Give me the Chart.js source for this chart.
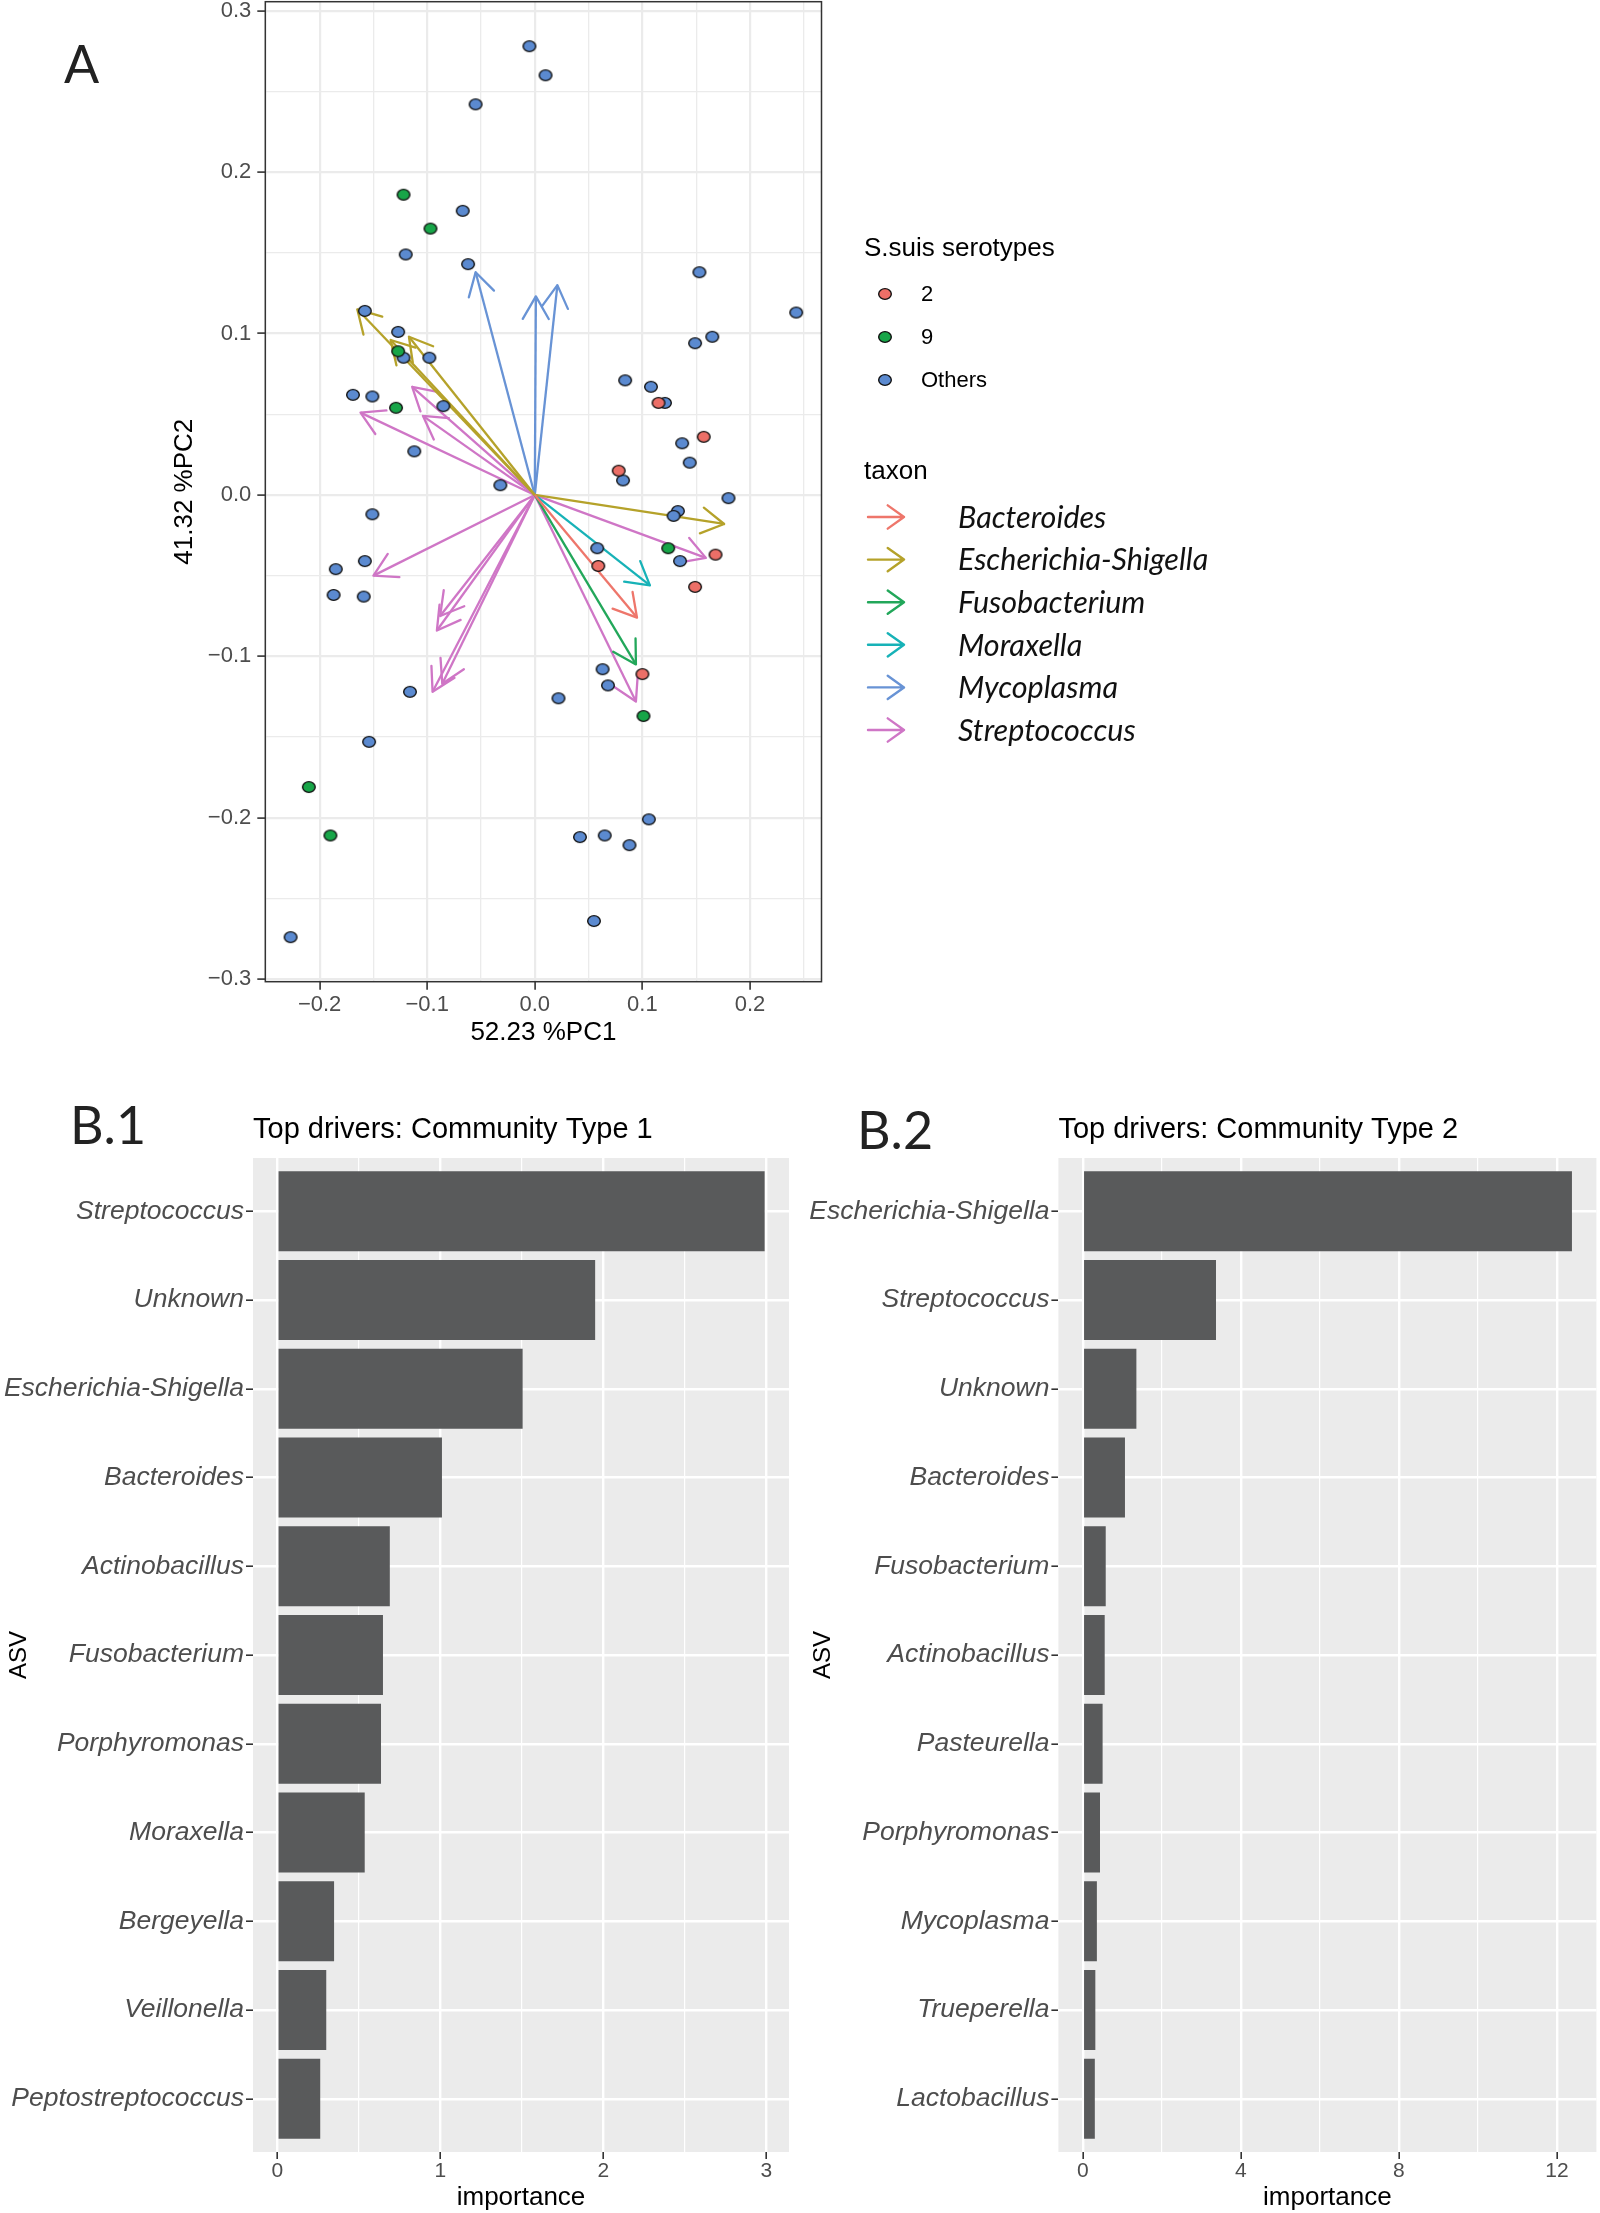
<!DOCTYPE html>
<html>
<head>
<meta charset="utf-8">
<script src="https://cdn.jsdelivr.net/npm/chart.js@4.4.1/dist/chart.umd.min.js"></script>
<style>
  html, body { margin: 0; padding: 0; background: #fff; }
  body { width: 1600px; height: 2213px; position: relative; overflow: hidden; }
  canvas { position: absolute; }
  .tag { position: absolute; font-family: Lato, sans-serif; font-size: 52px; line-height: 52px; color: #222; }
</style>
</head>
<body>
<div class="tag" style="left:64px; top:37px;">A</div>
<div class="tag" style="left:70px; top:1098px;">B.1</div>
<div class="tag" style="left:857px; top:1103px;">B.2</div>
<canvas id="pca" width="1600" height="1060" style="left:0; top:0;"></canvas>
<canvas id="ct1" width="800" height="1133" style="left:0; top:1080px;"></canvas>
<canvas id="ct2" width="800" height="1133" style="left:800px; top:1080px;"></canvas>
<script>
/*
  Panel A: PCA biplot of samples + taxon loadings
  Panel B: top drivers per community type
*/
const SANS = "'Liberation Sans', Arial, Helvetica, sans-serif";

// ---- Panel A data ----
const pc1Title = '52.23 %PC1';
const pc2Title = '41.32 %PC2';
const serotypeTitle = 'S.suis serotypes';
const serotypeNames = ['2', '9', 'Others'];
const serotypeColors = ['#EC6F67', '#17A548', '#5B8AD0'];

const sero2 = [[0.115, 0.057], [0.157, 0.036], [0.078, 0.015], [0.168, -0.037], [0.059, -0.044],
  [0.149, -0.057], [0.100, -0.111]];
const sero9 = [[-0.122, 0.186], [-0.097, 0.165], [-0.127, 0.089], [-0.129, 0.054], [0.124, -0.033],
  [0.101, -0.137], [-0.210, -0.181], [-0.190, -0.211]];
const seroOthers = [[-0.005, 0.278], [0.010, 0.260], [-0.055, 0.242], [-0.067, 0.176], [-0.120, 0.149],
  [-0.062, 0.143], [0.153, 0.138], [0.243, 0.113], [-0.158, 0.114], [-0.127, 0.101], [0.165, 0.098],
  [0.149, 0.094], [-0.122, 0.085], [-0.098, 0.085], [0.084, 0.071], [-0.169, 0.062], [-0.151, 0.061],
  [0.108, 0.067], [0.121, 0.057], [-0.085, 0.055], [0.137, 0.032], [-0.112, 0.027], [0.144, 0.020],
  [0.082, 0.009], [-0.032, 0.006], [0.180, -0.002], [-0.151, -0.012], [0.133, -0.010], [0.129, -0.013],
  [0.058, -0.033], [-0.158, -0.041], [0.135, -0.041], [-0.185, -0.046], [-0.187, -0.062], [-0.159, -0.063],
  [0.063, -0.108], [0.068, -0.118], [-0.116, -0.122], [0.022, -0.126], [-0.154, -0.153], [0.106, -0.201],
  [0.042, -0.212], [0.065, -0.211], [0.088, -0.217], [0.055, -0.264], [-0.227, -0.274]];

const taxonTitle = 'taxon';
const taxonNames = ['Bacteroides', 'Escherichia-Shigella', 'Fusobacterium', 'Moraxella', 'Mycoplasma', 'Streptococcus'];
const taxonColors = ['#EE766B', '#B5A22A', '#22A75A', '#17B2B7', '#6893D5', '#CF76C6'];
const tipsBacteroides = [[0.095, -0.076]];
const tipsEscherichia = [[-0.165, 0.115], [-0.134, 0.096], [-0.117, 0.098], [0.176, -0.018]];
const tipsFusobacterium = [[0.094, -0.105]];
const tipsMoraxella = [[0.107, -0.056]];
const tipsMycoplasma = [[-0.055, 0.138], [0.001, 0.123], [0.021, 0.130]];
const tipsStreptococcus = [[-0.114, 0.067], [-0.104, 0.049], [-0.162, 0.051], [-0.150, -0.050],
  [-0.088, -0.075], [-0.091, -0.084], [-0.095, -0.122], [-0.086, -0.117], [0.159, -0.039], [0.094, -0.128]];
const taxonTips = [tipsBacteroides, tipsEscherichia, tipsFusobacterium, tipsMoraxella, tipsMycoplasma, tipsStreptococcus];

// ---- Panel B data ----
const ct1Title = 'Top drivers: Community Type 1';
const ct1Asv = ['Streptococcus', 'Unknown', 'Escherichia-Shigella', 'Bacteroides', 'Actinobacillus',
  'Fusobacterium', 'Porphyromonas', 'Moraxella', 'Bergeyella', 'Veillonella', 'Peptostreptococcus'];
const ct1Importance = [2.99, 1.95, 1.505, 1.01, 0.69, 0.648, 0.636, 0.536, 0.348, 0.30, 0.263];
const ct1Ticks = [0, 1, 2, 3];

const ct2Title = 'Top drivers: Community Type 2';
const ct2Asv = ['Escherichia-Shigella', 'Streptococcus', 'Unknown', 'Bacteroides', 'Fusobacterium',
  'Actinobacillus', 'Pasteurella', 'Porphyromonas', 'Mycoplasma', 'Trueperella', 'Lactobacillus'];
const ct2Importance = [12.38, 3.37, 1.355, 1.066, 0.579, 0.553, 0.50, 0.434, 0.355, 0.316, 0.303];
const ct2Ticks = [0, 4, 8, 12];

Chart.defaults.font.family = SANS;

// ggplot-like 5% expansion of a data range
function expand(lo, hi) {
  const d = (hi - lo) * 0.05;
  return [lo - d, hi + d];
}

// scales must not reserve extra room for overflowing tick labels
function noPad(s) {
  s.paddingTop = 0; s.paddingBottom = 0; s.paddingLeft = 0; s.paddingRight = 0;
}

function drawArrow(ctx, x0, y0, x1, y1, color, width, len, head, headOnly) {
  const ang = Math.atan2(y1 - y0, x1 - x0);
  ctx.save();
  ctx.strokeStyle = color;
  ctx.lineWidth = width;
  ctx.lineCap = 'round';
  ctx.beginPath();
  if (!headOnly) { ctx.moveTo(x0, y0); ctx.lineTo(x1, y1); }
  [-1, 1].forEach(s => {
    ctx.moveTo(x1, y1);
    ctx.lineTo(x1 - len * Math.cos(ang + s * head), y1 - len * Math.sin(ang + s * head));
  });
  ctx.stroke();
  ctx.restore();
}

function dotImage(fill) {
  const c = document.createElement('canvas');
  c.width = 16; c.height = 14;
  const g = c.getContext('2d');
  g.beginPath();
  g.ellipse(8, 7, 6.3, 5.4, 0, 0, Math.PI * 2);
  g.fillStyle = fill;
  g.fill();
  g.lineWidth = 1.4;
  g.strokeStyle = '#111';
  g.stroke();
  return c;
}
const dots = serotypeColors.map(dotImage);

const panelBg = {
  id: 'panelBg',
  beforeDraw(chart, args, opts) {
    const {ctx, chartArea: a} = chart;
    ctx.save();
    ctx.fillStyle = opts.color || '#fff';
    ctx.fillRect(a.left, a.top, a.right - a.left, a.bottom - a.top);
    ctx.restore();
  }
};

const panelBorder = {
  id: 'panelBorder',
  afterDatasetsDraw(chart) {
    const {ctx, chartArea: a} = chart;
    ctx.save();
    ctx.strokeStyle = '#333';
    ctx.lineWidth = 1.5;
    ctx.strokeRect(a.left, a.top, a.right - a.left, a.bottom - a.top);
    ctx.restore();
  }
};

const arrowHeads = {
  id: 'arrowHeads',
  afterDatasetDraw(chart, args) {
    const ds = chart.data.datasets[args.index];
    if (!ds.isArrow) return;
    const [a, b] = args.meta.data;
    drawArrow(chart.ctx, a.x, a.y, b.x, b.y, ds.borderColor, ds.borderWidth, 26, Math.PI / 6, true);
  }
};

const pcaLegend = {
  id: 'pcaLegend',
  afterDraw(chart) {
    const ctx = chart.ctx;
    ctx.save();
    ctx.fillStyle = '#000';
    ctx.textBaseline = 'alphabetic';
    ctx.font = `26px ${SANS}`;
    ctx.fillText(serotypeTitle, 864, 256);
    ctx.font = `22px ${SANS}`;
    ctx.textBaseline = 'middle';
    serotypeNames.forEach((name, i) => {
      const y = 294 + i * 43;
      ctx.drawImage(dots[i], 885 - dots[i].width / 2, y - dots[i].height / 2);
      ctx.fillText(name, 921, y + 1);
    });
    ctx.textBaseline = 'alphabetic';
    ctx.font = `26px ${SANS}`;
    ctx.fillText(taxonTitle, 864, 479);
    ctx.font = `italic 30.5px Lato, ${SANS}`;
    ctx.textBaseline = 'middle';
    taxonNames.forEach((name, i) => {
      const y = 517 + i * 42.6;
      drawArrow(ctx, 868, y, 904, y, taxonColors[i], 2.4, 20, 0.62, false);
      ctx.fillStyle = '#111';
      ctx.fillText(name, 958, y + 1);
    });
    ctx.restore();
  }
};

// ---- Panel A chart ----
const allXY = [[0, 0]].concat(sero2, sero9, seroOthers, ...taxonTips);
const xLim = expand(Math.min(...allXY.map(p => p[0])), Math.max(...allXY.map(p => p[0])));
const yLim = expand(Math.min(...allXY.map(p => p[1])), Math.max(...allXY.map(p => p[1])));

const pcaMajor = v => Math.abs(Math.round(v * 100)) % 10 === 0;
const pcaFmt = v => (v < -1e-9 ? '\u2212' : '') + Math.abs(v).toFixed(1);

const pcaDatasets = [];
taxonTips.forEach((tips, t) => {
  tips.forEach(([x, y]) => {
    pcaDatasets.push({
      type: 'line', isArrow: true, label: taxonNames[t],
      data: [{x: 0, y: 0}, {x, y}],
      borderColor: taxonColors[t], borderWidth: 2.3,
      pointRadius: 0, showLine: true, fill: false, tension: 0, order: 1
    });
  });
});
[sero2, sero9, seroOthers].forEach((pts, i) => {
  pcaDatasets.push({
    type: 'scatter', label: serotypeNames[i],
    data: pts.map(([x, y]) => ({x, y})),
    pointStyle: dots[i], pointRadius: 6, order: 0
  });
});

function pcaAxis(lim, title, extra) {
  return Object.assign({
    type: 'linear', min: lim[0], max: lim[1], offset: false,
    ticks: {
      stepSize: 0.05, autoSkip: false, includeBounds: false,
      color: '#4D4D4D', font: {size: 22},
      callback: v => pcaMajor(v) ? pcaFmt(v) : ''
    },
    grid: {
      color: '#EBEBEB',
      lineWidth: c => (c.tick && pcaMajor(c.tick.value)) ? 2.2 : 1.3,
      tickColor: c => (c.tick && pcaMajor(c.tick.value)) ? '#333' : 'rgba(0,0,0,0)',
      tickLength: 8, tickWidth: 1.6
    },
    border: {display: false},
    title: {display: true, text: title, color: '#000', font: {size: 26}, padding: {top: 0, bottom: 0}}
  }, extra);
}

const xAxisA = pcaAxis(xLim, pc1Title, {afterFit: s => { s.height = 78.3; noPad(s); }});
xAxisA.ticks.padding = 2;
xAxisA.title.padding = {top: 0, bottom: 11.4};
const yAxisA = pcaAxis(yLim, pc2Title, {afterFit: s => { s.width = 95.9; noPad(s); }});
yAxisA.ticks.padding = 6;

new Chart(document.getElementById('pca'), {
  type: 'scatter',
  data: {datasets: pcaDatasets},
  options: {
    responsive: false,
    animation: false,
    layout: {autoPadding: false, padding: {left: 169.4, right: 778.5, top: 1.7, bottom: 0}},
    plugins: {legend: {display: false}, tooltip: {enabled: false}, panelBg: {color: '#fff'}},
    scales: {x: xAxisA, y: yAxisA}
  },
  plugins: [panelBg, arrowHeads, panelBorder, pcaLegend]
});

// ---- Panel B charts ----
function driverChart(id, title, asv, importance, labelTicks, minorStep, box) {
  const lim = expand(0, Math.max(...importance));
  const isMajor = v => labelTicks.some(t => Math.abs(t - v) < 1e-9);
  return new Chart(document.getElementById(id), {
    type: 'bar',
    data: {
      datasets: [{
        data: importance.map((v, i) => ({x: v, y: i})),
        backgroundColor: '#595A5B', borderWidth: 0,
        barPercentage: 0.9, categoryPercentage: 1
      }]
    },
    options: {
      indexAxis: 'y',
      responsive: false,
      animation: false,
      layout: {autoPadding: false, padding: {left: 0, right: box.padRight, top: 0, bottom: 0}},
      plugins: {
        legend: {display: false},
        tooltip: {enabled: false},
        panelBg: {color: '#EBEBEB'},
        title: {
          display: true, text: title, align: 'start', fullSize: false, color: '#000',
          font: {size: 29, weight: 'normal'}, padding: {top: 32.6, bottom: 10.6}
        }
      },
      scales: {
        x: {
          type: 'linear', min: lim[0], max: lim[1], offset: false,
          ticks: {
            stepSize: minorStep, autoSkip: false, includeBounds: false, padding: 0,
            color: '#4D4D4D', font: {size: 21},
            callback: v => isMajor(v) ? String(v) : ''
          },
          grid: {
            color: '#fff', offset: false,
            lineWidth: c => (c.tick && isMajor(c.tick.value)) ? 2.4 : 1.2,
            tickColor: c => (c.tick && isMajor(c.tick.value)) ? '#333' : 'rgba(0,0,0,0)',
            tickLength: 7, tickWidth: 1.6
          },
          border: {display: false},
          title: {display: true, text: 'importance', color: '#000', font: {size: 26}, padding: {top: 0, bottom: 0}},
          afterFit: s => { s.height = 61; noPad(s); }
        },
        y: {
          type: 'linear', reverse: true, min: -0.6, max: asv.length - 0.4, offset: false,
          ticks: {
            stepSize: 1, autoSkip: false, includeBounds: false, padding: 2,
            color: '#4D4D4D', font: {size: 26.5, style: 'italic'},
            callback: v => asv[v] !== undefined ? asv[v] : ''
          },
          grid: {color: '#fff', offset: false, lineWidth: 2.4, tickColor: '#333', tickLength: 7, tickWidth: 1.6},
          border: {display: false},
          title: {display: true, text: 'ASV', color: '#000', font: {size: 24}, padding: {top: box.asvPad, bottom: 0}},
          afterFit: s => { s.width = box.yWidth; noPad(s); }
        }
      }
    },
    plugins: [panelBg]
  });
}

driverChart('ct1', ct1Title, ct1Asv, ct1Importance, ct1Ticks, 0.5, {yWidth: 253, padRight: 11, asvPad: 4.6});
driverChart('ct2', ct2Title, ct2Asv, ct2Importance, ct2Ticks, 2, {yWidth: 258.4, padRight: 3.6, asvPad: 8.6});
</script>
</body>
</html>
